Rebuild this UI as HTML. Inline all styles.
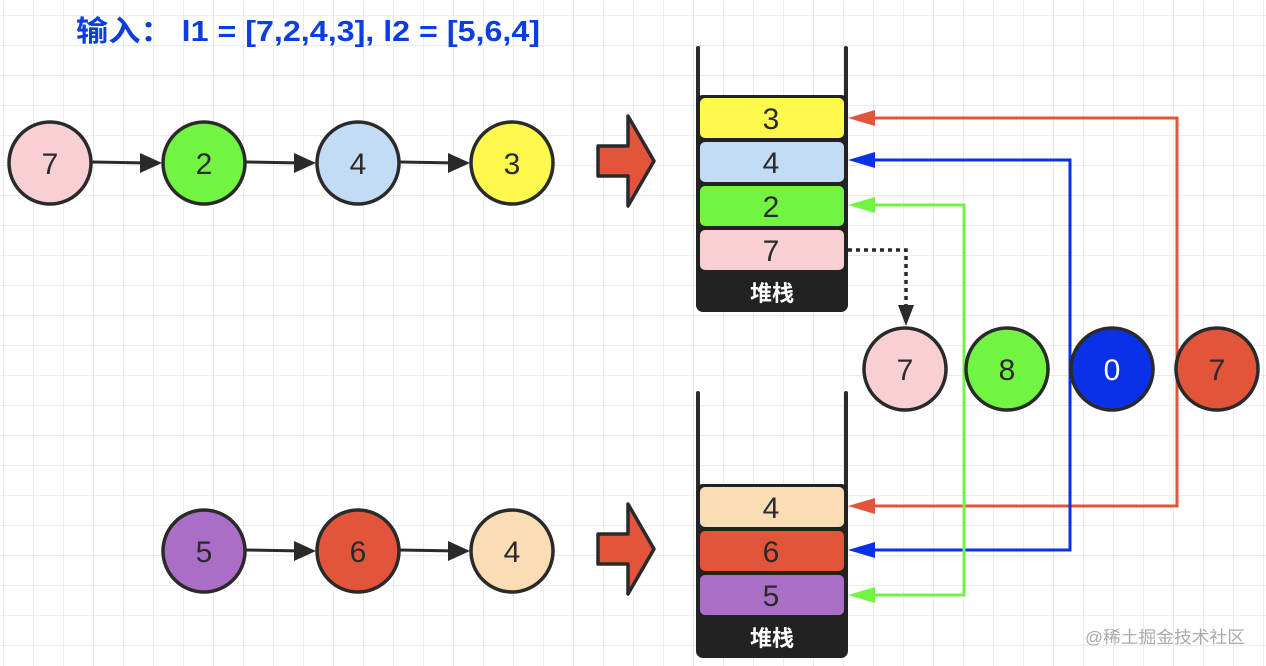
<!DOCTYPE html>
<html><head><meta charset="utf-8"><style>
html,body{margin:0;padding:0;background:#fff;}
svg{display:block;}
text{font-family:"Liberation Sans","Noto Sans CJK SC",sans-serif;}
</style></head><body>
<svg width="1266" height="666" viewBox="0 0 1266 666" xmlns="http://www.w3.org/2000/svg">
<defs>
<pattern id="g" x="3" y="15" width="30" height="30" patternUnits="userSpaceOnUse">
<path d="M0 0H30M0 0V30" stroke="#e6e6e6" stroke-width="1.5" fill="none"/>
</pattern>
</defs>
<rect width="1266" height="666" fill="#fff"/>
<rect width="1266" height="666" fill="url(#g)"/>
<text x="76" y="41" font-size="29" font-weight="bold" fill="#0a3ee0" textLength="464" lengthAdjust="spacingAndGlyphs">输入： l1 = [7,2,4,3], l2 = [5,6,4]</text>

<!-- list connectors -->
<g stroke="#2a2a2a" stroke-width="3" fill="none">
<line x1="92" y1="162" x2="150" y2="163"/><line x1="246" y1="162" x2="304" y2="163"/><line x1="400" y1="162" x2="458" y2="163"/>
<line x1="246" y1="550" x2="304" y2="551"/><line x1="400" y1="550" x2="458" y2="551"/>
</g>
<g fill="#2a2a2a">
<path d="M140 153L162 163L140 173z"/><path d="M294 153L316 163L294 173z"/><path d="M448 153L470 163L448 173z"/>
<path d="M294 541L316 551L294 561z"/><path d="M448 541L470 551L448 561z"/>
</g>
<g stroke="#2a2a2a" stroke-width="3.5">
<circle cx="50" cy="163" r="41" fill="#f8cfd3"/>
<circle cx="204" cy="163" r="41" fill="#72f542"/>
<circle cx="358" cy="163" r="41" fill="#c3dcf5"/>
<circle cx="512" cy="163" r="41" fill="#fff94d"/>
<circle cx="204" cy="551" r="41" fill="#aa6ec6"/>
<circle cx="358" cy="551" r="41" fill="#e3553b"/>
<circle cx="512" cy="551" r="41" fill="#fbddb5"/>
</g>
<g font-size="30" fill="#2a2a2a" text-anchor="middle">
<text x="50" y="174">7</text><text x="204" y="174">2</text><text x="358" y="174">4</text><text x="512" y="174">3</text>
<text x="204" y="562">5</text><text x="358" y="562">6</text><text x="512" y="562">4</text>
</g>

<!-- block arrows -->
<path d="M598 146L628 146L628 116L654 161L628 206L628 176L598 176Z" fill="#e3553b" stroke="#2a2a2a" stroke-width="3.5" stroke-linejoin="round"/>
<path d="M598 534L628 534L628 504L654 549L628 594L628 564L598 564Z" fill="#e3553b" stroke="#2a2a2a" stroke-width="3.5" stroke-linejoin="round"/>

<!-- colored connectors -->
<g fill="none" stroke-width="3">
<polyline points="862,118 1177,118 1177,506 862,506" stroke="#e3553b"/>
<polyline points="862,160 1070,160 1070,550 862,550" stroke="#0a30e8"/>
<polyline points="862,205 964,205 964,595 862,595" stroke="#72f542"/>
</g>
<path d="M848 118L875 110L875 126z" fill="#e3553b"/>
<path d="M848 506L875 498L875 514z" fill="#e3553b"/>
<path d="M848 160L875 152L875 168z" fill="#0a30e8"/>
<path d="M848 550L875 542L875 558z" fill="#0a30e8"/>
<path d="M848 205L875 197L875 213z" fill="#72f542"/>
<path d="M848 595L875 587L875 603z" fill="#72f542"/>
<polyline points="848,250 906,250 906,310" fill="none" stroke="#2a2a2a" stroke-width="3.5" stroke-dasharray="4,4"/>
<path d="M898 305L914 305L906 326z" fill="#2a2a2a"/>

<!-- stacks -->
<g stroke="#2a2a2a" stroke-width="4" stroke-linecap="round">
<line x1="698" y1="48" x2="698" y2="100"/><line x1="846" y1="48" x2="846" y2="100"/>
<line x1="698" y1="393" x2="698" y2="488"/><line x1="846" y1="393" x2="846" y2="488"/>
</g>
<rect x="696" y="95" width="152" height="217" rx="7" fill="#222"/>
<rect x="700" y="98" width="144" height="40" rx="5" fill="#fff94d"/>
<rect x="700" y="142" width="144" height="40" rx="5" fill="#c3dcf5"/>
<rect x="700" y="186" width="144" height="40" rx="5" fill="#72f542"/>
<rect x="700" y="230" width="144" height="40" rx="5" fill="#f8cfd3"/>
<rect x="696" y="484" width="152" height="174" rx="7" fill="#222"/>
<rect x="700" y="487" width="144" height="40" rx="5" fill="#fbddb5"/>
<rect x="700" y="531" width="144" height="40" rx="5" fill="#e3553b"/>
<rect x="700" y="575" width="144" height="40" rx="5" fill="#aa6ec6"/>
<g font-size="30" fill="#2a2a2a" text-anchor="middle">
<text x="771" y="129">3</text><text x="771" y="173">4</text><text x="771" y="217">2</text><text x="771" y="261">7</text>
<text x="771" y="518">4</text><text x="771" y="562">6</text><text x="771" y="606">5</text>
</g>
<g font-size="22" font-weight="bold" fill="#fff" text-anchor="middle">
<text x="772" y="301">堆栈</text><text x="772" y="646">堆栈</text>
</g>

<!-- result -->
<g stroke="#2a2a2a" stroke-width="3.5">
<circle cx="905" cy="369" r="41" fill="#f8cfd3"/>
<circle cx="1007" cy="369" r="41" fill="#72f542"/>
<circle cx="1112" cy="369" r="41" fill="#0a30e8"/>
<circle cx="1217" cy="369" r="41" fill="#e3553b"/>
</g>
<g font-size="30" text-anchor="middle">
<text x="905" y="380" fill="#2a2a2a">7</text><text x="1007" y="380" fill="#2a2a2a">8</text>
<text x="1112" y="380" fill="#fff">0</text><text x="1217" y="380" fill="#2a2a2a">7</text>
</g>
<text x="1085" y="643" font-size="17" fill="#aaa" textLength="160" lengthAdjust="spacingAndGlyphs">@稀土掘金技术社区</text>
</svg>
</body></html>
